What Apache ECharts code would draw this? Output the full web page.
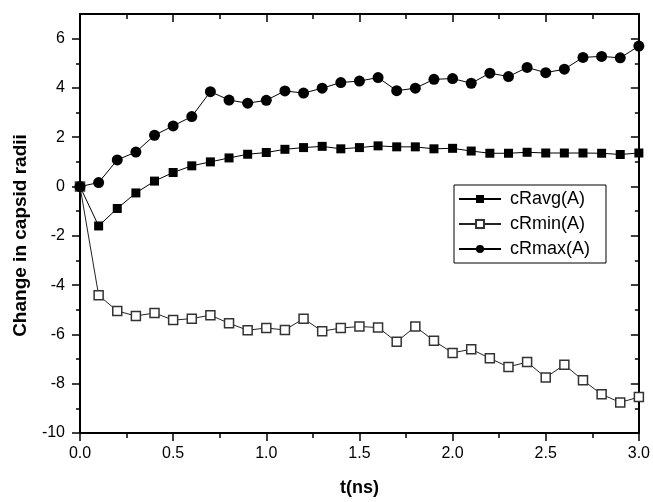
<!DOCTYPE html>
<html>
<head>
<meta charset="utf-8">
<script src="https://cdn.jsdelivr.net/npm/echarts@6/dist/echarts.min.js"></script>
<style>
html, body { margin: 0; padding: 0; background: #fff; }
#chart { width: 653px; height: 502px; }
</style>
</head>
<body>
<div id="chart"></div>
<script>
// time axis (ns)
var tValues = [0, 0.1, 0.2, 0.3, 0.4, 0.5, 0.6, 0.7, 0.8, 0.9, 1.0, 1.1, 1.2, 1.3, 1.4, 1.5,
  1.6, 1.7, 1.8, 1.9, 2.0, 2.1, 2.2, 2.3, 2.4, 2.5, 2.6, 2.7, 2.8, 2.9, 3.0];
var cRavg = [0, -1.60, -0.89, -0.26, 0.22, 0.57, 0.84, 1.00, 1.16, 1.31, 1.38, 1.51, 1.58, 1.63, 1.53, 1.58,
  1.65, 1.61, 1.61, 1.53, 1.55, 1.44, 1.35, 1.35, 1.39, 1.36, 1.36, 1.36, 1.35, 1.30, 1.36];
var cRmin = [0, -4.41, -5.05, -5.25, -5.13, -5.42, -5.36, -5.22, -5.55, -5.83, -5.74, -5.82, -5.36, -5.87, -5.74, -5.68,
  -5.72, -6.30, -5.68, -6.26, -6.75, -6.60, -6.97, -7.32, -7.12, -7.75, -7.23, -7.86, -8.43, -8.76, -8.54];
var cRmax = [0, 0.16, 1.08, 1.40, 2.08, 2.46, 2.84, 3.85, 3.51, 3.38, 3.50, 3.88, 3.79, 3.99, 4.22, 4.28,
  4.42, 3.89, 3.99, 4.35, 4.38, 4.19, 4.60, 4.46, 4.83, 4.62, 4.76, 5.24, 5.28, 5.22, 5.70];
var yMajorTicks = [-10, -8, -6, -4, -2, 0, 2, 4, 6];
var yMinorTicks = [-9, -7, -5, -3, -1, 1, 3, 5];

function pairs(vals) {
  var out = [];
  tValues.forEach(function (t, i) {
    out.push([t, vals[i]]);
  });
  return out;
}

var font = "'Liberation Sans', Arial, sans-serif";
var black = "#000";

function xAxisDef(pos, main) {
  return {
    type: "value",
    position: pos,
    min: 0,
    max: 3,
    interval: 0.5,
    axisLine: { show: true, onZero: false, lineStyle: { color: black, width: 2 } },
    axisTick: { show: true, inside: !main, length: 8, lineStyle: { color: black, width: 1.5 } },
    minorTick: { show: true, splitNumber: 2, length: 5, lineStyle: { color: black, width: 1.5 } },
    axisLabel: {
      show: main,
      margin: 13,
      fontSize: 16,
      color: black,
      fontFamily: font,
      formatter: function (v) { return v.toFixed(1); }
    },
    splitLine: { show: false },
    name: main ? "t(ns)" : "",
    nameLocation: "middle",
    nameGap: 46,
    nameTextStyle: { fontSize: 18, fontWeight: "bold", color: black, fontFamily: font }
  };
}

function yAxisDef(pos, minor, main) {
  return {
    type: "value",
    position: pos,
    min: -10,
    max: 7,
    interval: 2,
    axisLine: { show: !minor, onZero: false, lineStyle: { color: black, width: 2 } },
    axisTick: {
      show: true,
      inside: pos === "right",
      length: minor ? 4 : 8,
      customValues: minor ? yMinorTicks : yMajorTicks,
      lineStyle: { color: black, width: 1.5 }
    },
    axisLabel: {
      show: main,
      customValues: yMajorTicks,
      margin: 15,
      fontSize: 16,
      color: black,
      fontFamily: font
    },
    splitLine: { show: false },
    name: main ? "Change in capsid radii" : "",
    nameLocation: "middle",
    nameRotate: 90,
    nameGap: 50,
    nameTextStyle: {
      fontSize: 19, fontWeight: "bold", color: black, fontFamily: font,
      padding: [0, 24, 0, 0]
    }
  };
}

var myChart = echarts.init(document.getElementById("chart"));
var option = {
  animation: false,
  backgroundColor: "#fff",
  grid: { left: 80, right: 12, top: 14, bottom: 67 },
  legend: {
    orient: "vertical",
    left: 454,
    top: 185,
    padding: [4, 16, 4, 4],
    itemGap: 5,
    itemWidth: 42,
    itemHeight: 10,
    borderColor: black,
    borderWidth: 1,
    backgroundColor: "#fff",
    textStyle: { fontSize: 18, color: black, fontFamily: font, lineHeight: 20, padding: [0, 0, 0, 4] },
    data: ["cRavg(A)", "cRmin(A)", "cRmax(A)"]
  },
  xAxis: [xAxisDef("bottom", true), xAxisDef("top", false)],
  yAxis: [
    yAxisDef("left", false, true),
    yAxisDef("left", true, false),
    yAxisDef("right", false, false),
    yAxisDef("right", true, false)
  ],
  series: [
    {
      name: "cRavg(A)",
      type: "line",
      data: pairs(cRavg),
      symbol: "rect",
      symbolSize: 9,
      lineStyle: { color: black, width: 1 },
      itemStyle: { color: black }
    },
    {
      name: "cRmin(A)",
      type: "line",
      data: pairs(cRmin),
      symbol: "rect",
      symbolSize: 9,
      lineStyle: { color: "#222", width: 1 },
      itemStyle: { color: "#fff", borderColor: "#333", borderWidth: 1.5 }
    },
    {
      name: "cRmax(A)",
      type: "line",
      data: pairs(cRmax),
      symbol: "circle",
      symbolSize: 11,
      lineStyle: { color: black, width: 1 },
      itemStyle: { color: black }
    }
  ]
};
myChart.setOption(option, true);
</script>
</body>
</html>
